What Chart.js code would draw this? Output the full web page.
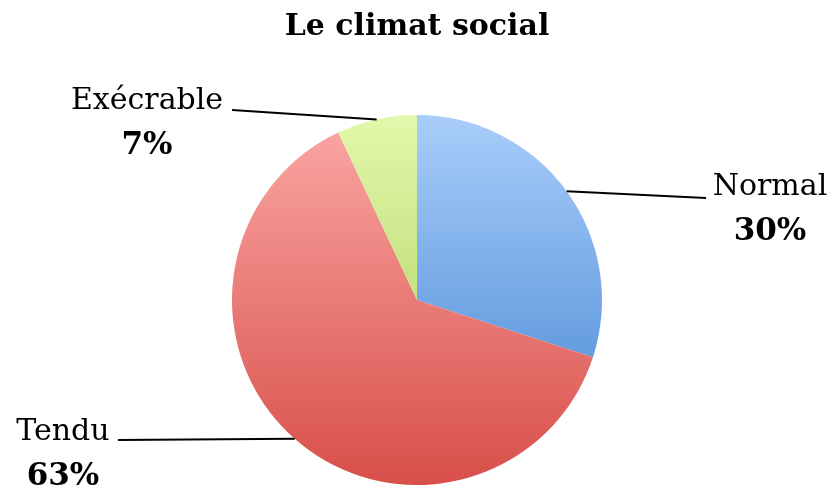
<!DOCTYPE html>
<html>
<head>
<meta charset="utf-8">
<script src="https://cdn.jsdelivr.net/npm/chart.js@4/dist/chart.umd.min.js"></script>
<style>
  html, body { margin: 0; padding: 0; background: #fff; }
  #wrap { width: 834px; height: 489px; }
</style>
</head>
<body>
<div id="wrap"><canvas id="pieChart"></canvas></div>
<script>
var categories = ["Normal", "Tendu", "Exécrable"];
var values = [30, 63, 7];
// top and bottom colour of each slice's vertical gradient
var topColors = ["#a9cdf9", "#fba8a5", "#e2f8ab"];
var bottomColors = ["#3f82d2", "#d84f4a", "#a6c955"];

var FONT = "'DejaVu Serif', 'Liberation Serif', serif";

function sliceGradient(context) {
  var chart = context.chart;
  var area = chart.chartArea;
  if (!area) return topColors[context.dataIndex];
  var g = chart.ctx.createLinearGradient(0, area.top, 0, area.bottom);
  g.addColorStop(0, topColors[context.dataIndex]);
  g.addColorStop(1, bottomColors[context.dataIndex]);
  return g;
}

// leader lines and two-line labels (name + bold percentage)
var calloutLabels = {
  id: 'calloutLabels',
  afterDatasetsDraw: function(chart, args, opts) {
    var ctx = chart.ctx;
    var meta = chart.getDatasetMeta(0);
    var total = values.reduce(function(a, b) { return a + b; }, 0);
    meta.data.forEach(function(arc, i) {
      var p = opts.places[i];
      var mid = (arc.startAngle + arc.endAngle) / 2;
      var sx = arc.x + Math.cos(mid) * arc.outerRadius;
      var sy = arc.y + Math.sin(mid) * arc.outerRadius;
      ctx.save();
      ctx.strokeStyle = '#000';
      ctx.lineWidth = 2;
      ctx.beginPath();
      ctx.moveTo(sx, sy);
      ctx.lineTo(p.lineX, p.lineY);
      ctx.stroke();
      ctx.fillStyle = '#000';
      ctx.textAlign = 'center';
      ctx.textBaseline = 'alphabetic';
      ctx.font = "30px " + FONT;
      ctx.fillText(categories[i], p.x, p.y);
      ctx.font = "bold 31px " + FONT;
      ctx.fillText(Math.round(values[i] / total * 100) + "%", p.x, p.y + 45);
      ctx.restore();
    });
  }
};

new Chart(document.getElementById("pieChart"), {
  type: 'pie',
  data: {
    labels: categories,
    datasets: [{
      data: values,
      backgroundColor: sliceGradient,
      borderWidth: 0
    }]
  },
  options: {
    responsive: true,
    maintainAspectRatio: false,
    animation: false,
    layout: { padding: { top: 0, bottom: 4, left: 0, right: 0 } },
    plugins: {
      legend: { display: false },
      tooltip: { enabled: false },
      title: {
        display: true,
        text: "Le climat social",
        color: '#000',
        font: { family: FONT, size: 30, weight: 'bold' },
        padding: { top: 9, bottom: 70 }
      },
      calloutLabels: {
        places: [
          { x: 770, y: 195, lineX: 706, lineY: 198 },
          { x: 63, y: 440, lineX: 118, lineY: 440 },
          { x: 147, y: 109, lineX: 232, lineY: 110 }
        ]
      }
    }
  },
  plugins: [calloutLabels]
});
</script>
</body>
</html>
